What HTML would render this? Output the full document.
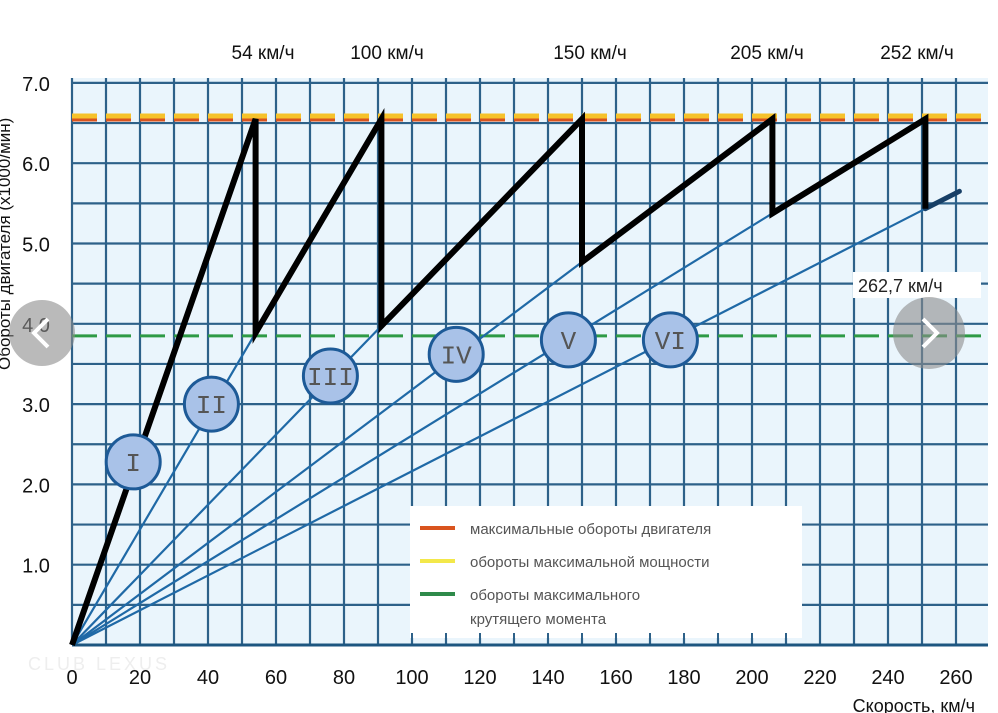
<!DOCTYPE html>
<html><head><meta charset="utf-8"><style>
html,body{margin:0;padding:0;background:#fff;width:998px;height:713px;overflow:hidden}
svg{display:block;font-family:"Liberation Sans",sans-serif}
</style></head><body>
<svg id="chart" width="998" height="713" viewBox="0 0 998 713">
<rect x="0" y="0" width="998" height="713" fill="#fff"/>
<g id="plot"></g>
</svg>
<script>
const xTicks=[0,20,40,60,80,100,120,140,160,180,200,220,240,260];
const yTicks=[1.0,2.0,3.0,4.0,5.0,6.0,7.0];
const gearNames=["I","II","III","IV","V","VI"];
const gearTopSpeed=[54,91,150,206,251,261];
const gearTopRpm=[6.55,6.55,6.55,6.55,6.55,5.65];
const gearLabelSpeed=[18,41,76,113,146,176];
const gearLabelRpm=[2.28,3.0,3.35,3.62,3.8,3.8];
const topLabels=["54 км/ч","100 км/ч","150 км/ч","205 км/ч","252 км/ч"];
const maxRpm=6.55, torqueRpm=3.85;

const NS="http://www.w3.org/2000/svg";
const X=v=>72+v*3.4, Y=v=>645-v*80.3;
const g=document.getElementById('plot');
function el(t,a,p){const e=document.createElementNS(NS,t);for(const k in a)e.setAttribute(k,a[k]);(p||g).appendChild(e);return e;}

let r=el('rect',{x:72,y:78,width:916,height:567,fill:'#eaf5fc'});


for(let v=0;v<=270;v+=10){if(X(v)>989)break;let l=el('line',{x1:X(v),x2:X(v),y1:78,y2:645,stroke:'#2d6189','stroke-width':2.2});

}
for(let v=0;v<=7.01;v+=0.5){let l=el('line',{x1:72,x2:988,y1:Y(v),y2:Y(v),stroke:'#2d6189','stroke-width':2.2});

}
let lb=el('rect',{x:410,y:506,width:392,height:132,fill:'#fff'});


for(let v=0;v<=260;v+=10){let t=el('line',{x1:X(v),x2:X(v),y1:633,y2:645,stroke:'#2d6189','stroke-width':2});

}
let ax=el('line',{x1:72,x2:988,y1:645,y2:645,stroke:'#1d5680','stroke-width':3});


let d1=el('line',{x1:72,x2:988,y1:Y(maxRpm)-3,y2:Y(maxRpm)-3,stroke:'#f6c22a','stroke-width':5,'stroke-dasharray':'25 9'});


let d2=el('line',{x1:72,x2:988,y1:Y(maxRpm)+1,y2:Y(maxRpm)+1,stroke:'#d9541e','stroke-width':3,'stroke-dasharray':'25 9'});


let d3=el('line',{x1:72,x2:988,y1:Y(torqueRpm),y2:Y(torqueRpm),stroke:'#2e9a45','stroke-width':3,'stroke-dasharray':'25 9'});


for(let i=0;i<gearTopSpeed.length;i++){let l=el('line',{x1:X(0),y1:Y(0),x2:X(gearTopSpeed[i]),y2:Y(gearTopRpm[i]),stroke:'#1f69a6','stroke-width':2.2});

}
// last gear active segment (thick dark blue)
const nL=gearTopSpeed.length-1, sPrev=gearTopSpeed[nL-1];
let lastSeg=el('line',{x1:X(sPrev),y1:Y(gearTopRpm[nL]/gearTopSpeed[nL]*sPrev),x2:X(gearTopSpeed[nL]),y2:Y(gearTopRpm[nL]),stroke:'#173f66','stroke-width':5,'stroke-linecap':'round'});


let pts=[[0,0]];
for(let i=0;i<gearTopSpeed.length;i++){
 if(i>0){const s=gearTopSpeed[i-1];pts.push([s,gearTopRpm[i]/gearTopSpeed[i]*s]);}
 if(i<gearTopSpeed.length-1)pts.push([gearTopSpeed[i],gearTopRpm[i]]);
}
let pl=el('polyline',{points:pts.map(p=>X(p[0])+','+Y(p[1])).join(' '),fill:'none',stroke:'#000','stroke-width':6,'stroke-linejoin':'miter'});


for(let i=0;i<gearNames.length;i++){const cx=X(gearLabelSpeed[i]),cy=Y(gearLabelRpm[i]);
let c=el('circle',{cx:cx,cy:cy,r:27,fill:'#a9c2e8',stroke:'#1d5a97','stroke-width':3});


let t=el('text',{x:cx,y:cy+9,'text-anchor':'middle','font-family':'Liberation Mono,monospace','font-size':26,fill:'#555'});t.textContent=gearNames[i];

}
xTicks.forEach(v=>{let t=el('text',{x:X(v),y:684,'text-anchor':'middle','font-size':20,fill:'#111'});t.textContent=v;

});
yTicks.forEach(v=>{let t=el('text',{x:36,y:Y(v)+8,'text-anchor':'middle','font-size':20,fill:'#111'});t.textContent=v.toFixed(1);

});
const topX=[263,387,590,767,917];
topLabels.forEach((s,i)=>{let t=el('text',{x:topX[i],y:59,'text-anchor':'middle','font-size':19,fill:'#111'});t.textContent=s;

});
let yt=el('text',{x:0,y:0,transform:'translate(10,370) rotate(-90)','text-anchor':'start','font-size':17,fill:'#111'});yt.textContent='Обороты двигателя (х1000/мин)';


let xt=el('text',{x:975,y:712,'text-anchor':'end','font-size':18,fill:'#111'});xt.textContent='Скорость, км/ч';


let vb=el('rect',{x:853,y:272,width:128,height:26,fill:'#fff'});


let vt=el('text',{x:858,y:292,'font-size':18,fill:'#222'});vt.textContent='262,7 км/ч';


const legC=['#d9541e','#f3e84a','#2e8a4a'];
const legT=[['максимальные обороты двигателя'],['обороты максимальной мощности'],['обороты максимального','крутящего момента']];
const legY=[528,561,594];
for(let i=0;i<3;i++){let l=el('line',{x1:420,x2:455,y1:legY[i],y2:legY[i],stroke:legC[i],'stroke-width':4});


legT[i].forEach((s,j)=>{let t=el('text',{x:470,y:legY[i]+6+j*24,'font-size':15,fill:'#555'});t.textContent=s;

});}
[[42,333,33,'prev'],[929,333,36,'next']].forEach(b=>{let c=el('circle',{cx:b[0],cy:b[1],r:b[2],fill:'rgba(140,140,140,0.6)'});


const d=b[3]=='next'?1:-1;
let p=el('polyline',{points:(b[0]-6*d)+','+(b[1]-14)+' '+(b[0]+8*d)+','+b[1]+' '+(b[0]-6*d)+','+(b[1]+14),fill:'none',stroke:'#fff','stroke-width':4});

});
let wm=el('text',{x:28,y:670,'font-size':18,fill:'#eee','letter-spacing':'3'});wm.textContent='CLUB LEXUS';


</script>
</body></html>
